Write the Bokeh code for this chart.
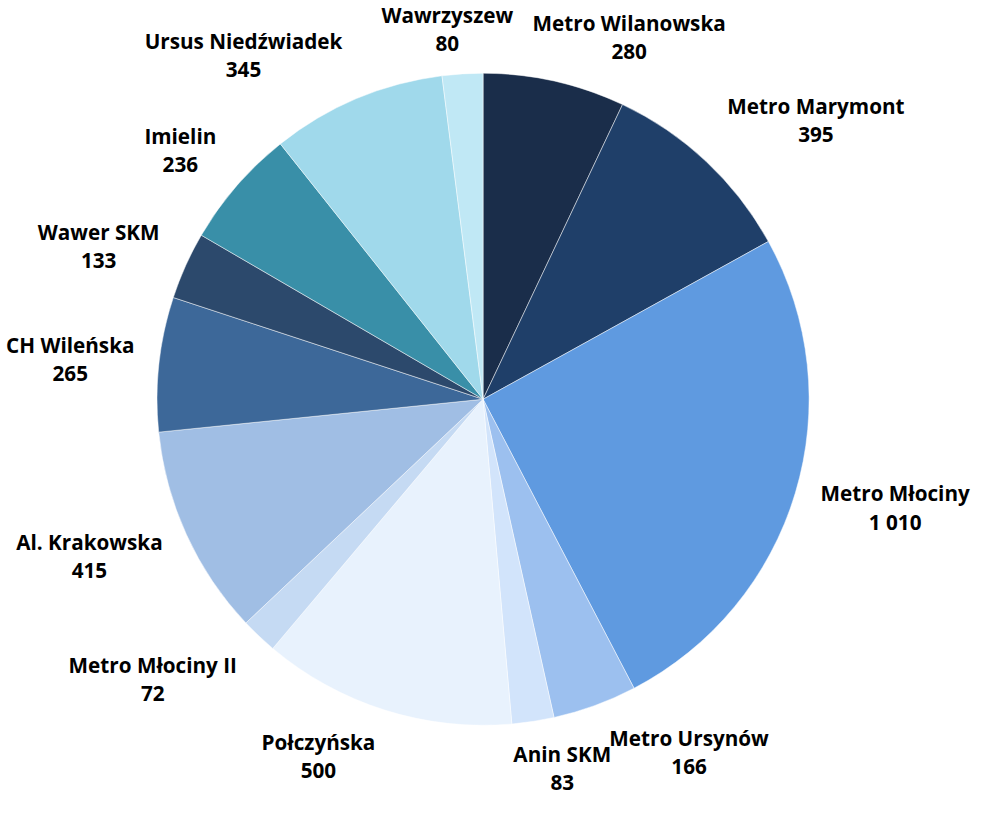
import math
from bokeh.plotting import figure
from bokeh.models import ColumnDataSource, Range1d
from bokeh.core.properties import value
from bokeh.embed import file_html
from bokeh.resources import INLINE

# ---- data (clockwise from 12 o'clock) ----
names = ["Metro Wilanowska", "Metro Marymont", "Metro Młociny", "Metro Ursynów",
         "Anin SKM", "Połczyńska", "Metro Młociny II", "Al. Krakowska",
         "CH Wileńska", "Wawer SKM", "Imielin", "Ursus Niedźwiadek", "Wawrzyszew"]
counts = [280, 395, 1010, 166, 83, 500, 72, 415, 265, 133, 236, 345, 80]
colors = ["#1a2d4a", "#1f3f69", "#5f9ae0", "#9cc0ef", "#d2e4fb", "#e8f2fd",
          "#c5daf3", "#a0bee4", "#3d6899", "#2c496c", "#398fa8", "#a0d9eb", "#c0e8f5"]

# ---- label layout (angle nudge in degrees, distance in pie radii) ----
label_angle_nudge = [9.3, 6.8, -2.0, -10.2, -3.3, 7.2, 6.3, 2.8, -0.7, -2.5, -1.4, -12.0, -1.9]
label_radius = [1.198, 1.333, 1.307, 1.253, 1.157, 1.206, 1.328, 1.300, 1.272, 1.269, 1.203, 1.286, 1.141]

W, H = 978, 799
S = 0.985                      # overall scale so the whole fits the window
R_PX = 331.0 * S               # pie radius in pixels
CX, CY = 496.0 * S - 6, 417.0 * S - 12   # pie centre in figure pixels (top-left origin)
FONT = f"{21.0 * S:.1f}px"
LINE_HALF = 14.5 * S

total = float(sum(counts))
starts, ends, lx, ly, vals = [], [], [], [], []
cum = 0.0
for i, c in enumerate(counts):
    a0 = cum / total
    a1 = (cum + c) / total
    starts.append(math.pi / 2 - 2 * math.pi * a0)
    ends.append(math.pi / 2 - 2 * math.pi * a1)
    mid = (a0 + a1) / 2 * 360.0 + label_angle_nudge[i]
    th = math.radians(mid)
    lx.append(label_radius[i] * math.sin(th))
    ly.append(label_radius[i] * math.cos(th))
    vals.append(f"{c:,}".replace(",", " "))
    cum += c

src = ColumnDataSource(dict(start=starts, end=ends, color=colors, name=names,
                            val=vals, lx=lx, ly=ly))

p = figure(width=W, height=H, output_backend="svg", toolbar_location=None,
           x_range=Range1d(-CX / R_PX, (W - CX) / R_PX),
           y_range=Range1d(-(H - CY) / R_PX, CY / R_PX),
           min_border=0, match_aspect=False)
p.axis.visible = False
p.grid.visible = False
p.outline_line_color = None
p.background_fill_color = "white"
p.border_fill_color = "white"

p.wedge(x=0, y=0, radius=1.0, start_angle="start", end_angle="end",
        direction="clock", fill_color="color", line_color="white",
        line_width=0.8, line_alpha=0.6, source=src)

common = dict(text_font=value("Open Sans"), text_font_style="bold",
              text_font_size=FONT, text_color="#000000",
              text_align="center", text_baseline="middle")
p.text(x="lx", y="ly", text="name", y_offset=-LINE_HALF, source=src, **common)
p.text(x="lx", y="ly", text="val", y_offset=LINE_HALF, source=src, **common)

open("out.html", "w").write(file_html(p, INLINE))
